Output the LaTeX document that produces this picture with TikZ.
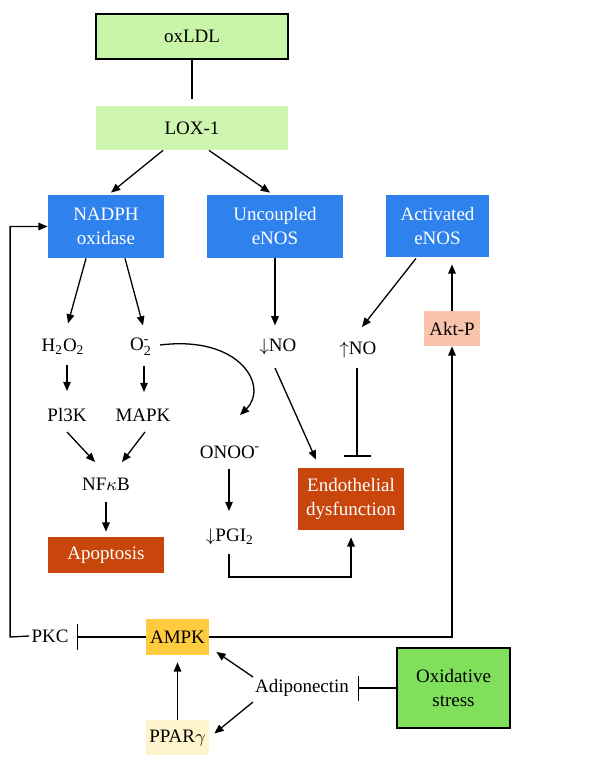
\documentclass[tikz,border=0pt]{standalone}
\usepackage{fontspec}
\setmainfont{Liberation Serif}
\usetikzlibrary{arrows.meta,calc}
\definecolor{oxgreen}{RGB}{200,245,168}
\definecolor{loxgreen}{RGB}{206,246,176}
\definecolor{enosblue}{RGB}{47,130,238}
\definecolor{rustred}{RGB}{200,70,12}
\definecolor{aktpeach}{RGB}{250,196,172}
\definecolor{ampkgold}{RGB}{255,204,64}
\definecolor{pparcream}{RGB}{255,244,204}
\definecolor{oxistress}{RGB}{128,224,92}
\begin{document}
\begin{tikzpicture}[x=0.5pt,y=-0.5pt,
  font=\fontsize{9.5}{12}\selectfont,
  box/.style={rectangle, inner sep=0pt, align=center},
  lbl/.style={inner sep=1pt, align=center},
  arr/.style={line width=0.65pt, -{Triangle[length=4.6pt,width=3.8pt]}},
  ln/.style={line width=0.65pt},
  inh/.style={line width=0.65pt, -{Bar[width=#1]}},
  inh/.default=13pt]
\useasboundingbox (0,0) rectangle (613,770);
\fill[white] (0,0) rectangle (613,770);

% boxes
\node[box, draw, line width=0.9pt, fill=oxgreen, minimum width=96pt, minimum height=22.5pt] (oxldl) at (192,36.5) {oxLDL};
\node[box, fill=loxgreen, minimum width=96pt, minimum height=22pt] (lox) at (192,128) {LOX-1};
\node[box, fill=enosblue, text=white, minimum width=58pt, minimum height=31.5pt] (nadph) at (106,226.5) {NADPH\\oxidase};
\node[box, fill=enosblue, text=white, minimum width=68pt, minimum height=31.5pt] (unc) at (275,226.5) {Uncoupled\\eNOS};
\node[box, fill=enosblue, text=white, minimum width=51.5pt, minimum height=31pt] (act) at (437.5,226) {Activated\\eNOS};
\node[box, fill=aktpeach, minimum width=28pt, minimum height=17.5pt] (akt) at (452,328.5) {Akt-P};
\node[box, fill=rustred, text=white, minimum width=53pt, minimum height=31pt] (endo) at (351,499) {Endothelial\\dysfunction};
\node[box, fill=rustred, text=white, minimum width=58pt, minimum height=18pt] (apo) at (106,555) {Apoptosis};
\node[box, fill=ampkgold, minimum width=31.5pt, minimum height=18pt] (ampk) at (177.5,637) {AMPK};
\node[box, fill=pparcream, minimum width=31.5pt, minimum height=17.5pt] (ppar) at (177.5,737.5) {PPAR$\gamma$};
\node[box, draw, line width=0.9pt, fill=oxistress, minimum width=56.5pt, minimum height=40pt] (oxi) at (453.5,688) {Oxidative\\stress};

% text labels
\node[lbl] (h2o2) at (63,347) {H\textsubscript{2}O\textsubscript{2}};
\node[lbl] (o2) at (141,347) {O$_{\hbox{\scriptsize 2}}^{\hbox{\scriptsize -}}$};
\node[lbl] (dnno) at (278,347) {$\downarrow$NO};
\node[lbl] (upno) at (358,350) {$\uparrow$NO};
\node[lbl] (pi3k) at (67,415) {Pl3K};
\node[lbl] (mapk) at (143,415) {MAPK};
\node[lbl] (nfkb) at (106,484) {NF$\kappa$B};
\node[lbl] (onoo) at (230,452) {ONOO\textsuperscript{-}};
\node[lbl] (pgi) at (230,537) {$\downarrow$PGI\textsubscript{2}};
\node[lbl] (pkc) at (50,636) {PKC};
\node[lbl] (adipo) at (302,688) {Adiponectin};

% connectors
\draw[ln, shorten >=3.5pt] (oxldl.south) -- (lox.north);
\draw[arr] ($(lox.south)+(-29,0)$) -- ($(nadph.north)+(5,-2)$);
\draw[arr] ($(lox.south)+(17,0)$) -- ($(unc.north)+(-5,-2)$);
\draw[arr] ($(nadph.south)+(-20,0)$) -- ($(nadph.south)+(-38,65)$);
\draw[arr] ($(nadph.south)+(19,0)$) -- ($(nadph.south)+(37,67)$);
\draw[arr] ($(pi3k)+(0,-50)$) -- ($(pi3k)+(0,-24)$);
\draw[arr] ($(mapk)+(1,-49)$) -- ($(mapk)+(1,-23)$);
\draw[arr] ($(pi3k)+(0,17)$) -- ($(nfkb)+(-11,-22)$);
\draw[arr] ($(mapk)+(2,17)$) -- ($(nfkb)+(16,-22)$);
\draw[arr] ($(nfkb)+(0,18)$) -- ($(apo.north)+(0,-5)$);
\draw[arr] (unc.south) -- ($(unc.south)+(0,67)$);
\draw[arr] ($(act.south)+(-21.5,1)$) -- ($(upno)+(4,-23)$);
\draw[arr, shorten >=3.5pt] (akt.north) -- (akt.north |- act.south);
\draw[arr] (ampk.east) -| (akt.south);
\draw[arr] ($(dnno)+(-3,21)$) -- ($(endo.north)+(-35,-8)$);
\draw[inh=13.5pt] ($(upno)+(-1,18)$) -- ($(endo.north)+(6,-11)$);
\draw[arr] ($(o2)+(19,-2)$) .. controls ($(o2)+(100,-12)$) and ($(o2)+(128,40)$) .. ($(onoo)+(10,-37)$);
\draw[arr] ($(onoo)+(-1,17)$) -- ($(onoo)+(-1,59)$);
\draw[arr, shorten >=3.5pt] ($(pgi)+(-1,17)$) -- ($(pgi)+(-1,40)$) -| (endo.south);
\draw[arr] (pkc.west) -- ($(pkc.west)+(-19,1)$) |- (nadph.west);
\draw[inh=13pt] (ampk.west) -- ($(ampk.west)+(-69,0)$);
\draw[arr, shorten >=3.5pt] (ppar.north) -- (ampk.south);
\draw[arr] ($(adipo)+(-49,-11)$) -- ($(ampk.east)+(7,15)$);
\draw[arr] ($(adipo)+(-49,14)$) -- ($(ppar.east)+(5,-4)$);
\draw[inh=12.5pt] (oxi.west) -- ($(oxi.west)+(-38,0)$);
\end{tikzpicture}
\end{document}
